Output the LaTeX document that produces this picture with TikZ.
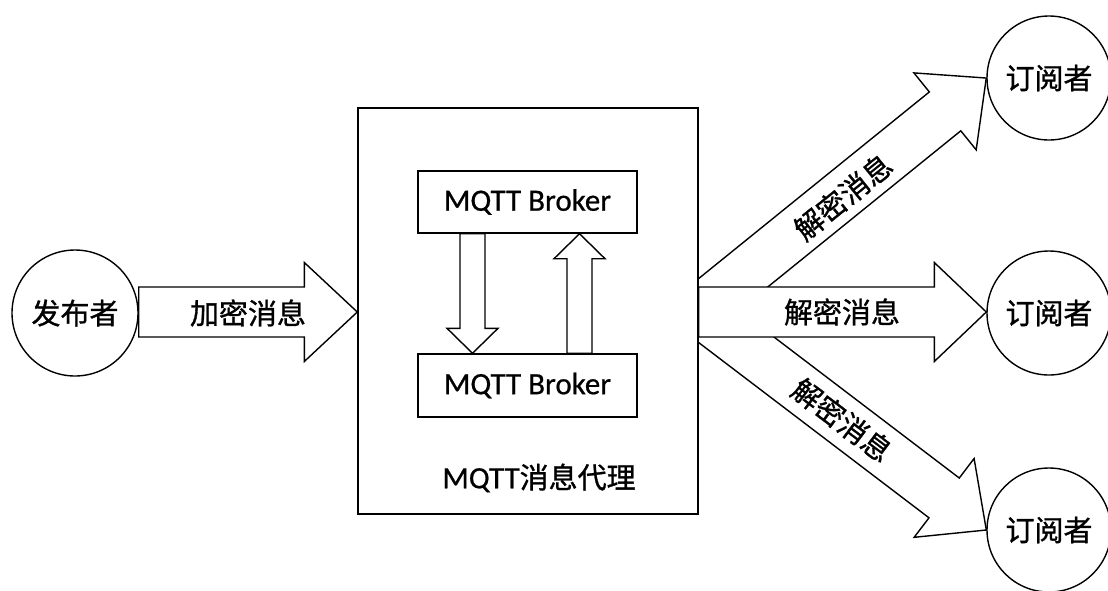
\documentclass[tikz,border=0pt]{standalone}
\usepackage{fontspec}
\setmainfont{Carlito}[FakeBold=0.6]
\newfontfamily\cjk{Noto Sans CJK SC}[FakeBold=1]
\usetikzlibrary{calc}
\pgfdeclarelayer{bg}
\pgfsetlayers{bg,main}
\tikzset{
  blk/.style={draw=black, fill=white, line width=1.4pt, line join=miter},
  circ/.style={circle, draw, line width=1.4pt, fill=white, minimum size=124pt, inner sep=0pt, font=\cjk\fontsize{29}{34}\selectfont},
  brkbox/.style={rectangle, draw, line width=1.4pt, fill=white, minimum width=219pt, minimum height=62pt, inner sep=0pt, font=\fontsize{31}{36}\selectfont},
  bigbox/.style={rectangle, draw, line width=1.4pt, fill=white, minimum width=340pt, minimum height=406pt, inner sep=0pt},
  lbl/.style={inner sep=0pt, font=\cjk\fontsize{29}{34}\selectfont},
}
% block arrow: #1 tail, #2 tip, #3 body half width, #4 head half width, #5 head length
\newcommand\blockarrow[5]{%
  \path (#1) coordinate (ba-a) (#2) coordinate (ba-b);%
  \pgfpointdiff{\pgfpointanchor{ba-a}{center}}{\pgfpointanchor{ba-b}{center}}%
  \pgfgetlastxy{\bax}{\bay}%
  \pgfmathsetmacro\baang{atan2(\bay,\bax)}%
  \pgfmathsetmacro\balen{veclen(\bax,\bay)}%
  \pgfmathsetmacro\babase{\balen-#5}%
  \begin{scope}[shift={(ba-a)}, rotate=\baang]
    \draw[blk] (0,-#3) -- (\babase,-#3) -- (\babase,-#4) -- (\balen,0)
      -- (\babase,#4) -- (\babase,#3) -- (0,#3) -- cycle;
  \end{scope}}
\begin{document}
\begin{tikzpicture}[x=1pt,y=-1pt]
\useasboundingbox (0,0) rectangle (1108,590);
\coordinate (axis) at (0,312);
\coordinate (ttail) at (681,325);
\coordinate (btail) at (709,319);

% circles
\node[circ, minimum size=126pt] (pub) at (75,313) {发布者};
\node[circ] (sub1) at (1049,78) {订阅者};
\node[circ] (sub2) at (1049,313) {订阅者};
\node[circ] (sub3) at (1049,530) {订阅者};

% white page and diagonal arrows (behind the box and middle arrow)
\begin{pgfonlayer}{bg}
  \fill[white] (0,0) rectangle (1108,590);
  \blockarrow{ttail}{sub1.west}{25}{49.5}{53}
  \blockarrow{btail}{sub3.west}{25}{49.5}{53}
\end{pgfonlayer}

% message broker box
\node[bigbox] (box) at (528,311) {};
\node[brkbox] (brk1) at (527.5,202) {MQTT Broker};
\node[brkbox, minimum height=63pt] (brk2) at (527.5,385.5) {MQTT Broker};
\node[inner sep=0pt, font=\fontsize{31}{36}\selectfont] (boxlbl) at (539,478) {MQTT{\cjk\fontsize{29}{34}\selectfont 消息代理}};

% horizontal arrows
\blockarrow{pub.east |- axis}{box.west |- axis}{25}{49.5}{53}
\blockarrow{box.east |- axis}{sub2.west |- axis}{25}{49.5}{52}

% internal arrows
\blockarrow{$(brk1.south)+(-55,0)$}{$(brk2.north)+(-55,0)$}{12.5}{25.5}{25}
\blockarrow{$(brk2.north)+(52,0)$}{$(brk1.south)+(52,0)$}{12.5}{25.5}{25}

% labels
\node[lbl] (l0) at (248,313) {加密消息};
\node[lbl] (l2) at (842,312) {解密消息};
\node[lbl, rotate=39] (l1) at (843,197) {解密消息};
\node[lbl, rotate=-37] (l3) at (842,420) {解密消息};
\end{tikzpicture}
\end{document}
